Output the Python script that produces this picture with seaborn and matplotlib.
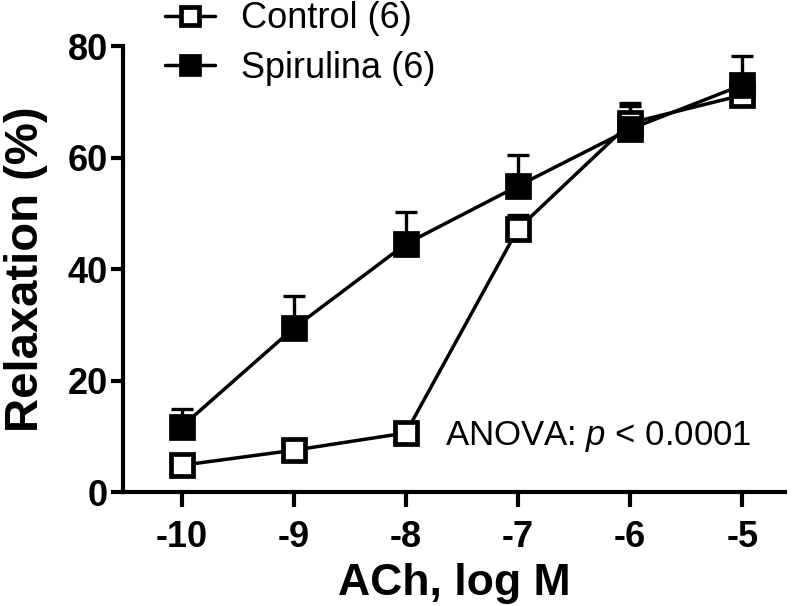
import matplotlib
matplotlib.use("Agg")
import matplotlib.pyplot as plt
import numpy as np
import pandas as pd
import seaborn as sns

log_conc = [-10, -9, -8, -7, -6, -5]
control_mean = [4.8, 7.5, 10.6, 47.2, 66.2, 71.2]
control_sem = [1.2, 1.5, 1.8, 2.5, 3.0, 2.0]
spirulina_mean = [11.7, 29.4, 44.5, 54.9, 65.1, 73.0]
spirulina_sem = [3.2, 5.8, 5.7, 5.5, 4.7, 5.2]
group_labels = ["Control (6)", "Spirulina (6)"]

sns.set_style("ticks")
plt.rcParams.update(
    {
        "font.family": ["Liberation Sans", "DejaVu Sans"],
        "axes.unicode_minus": False,
        "mathtext.fontset": "custom",
        "mathtext.rm": "Liberation Sans",
        "mathtext.it": "Liberation Sans:italic",
        "text.color": "black",
        "axes.labelcolor": "black",
        "axes.edgecolor": "black",
        "xtick.color": "black",
        "ytick.color": "black",
    }
)

df = pd.DataFrame(
    {
        "logM": log_conc * 2,
        "relax": control_mean + spirulina_mean,
        "group": [group_labels[0]] * 6 + [group_labels[1]] * 6,
    }
)

fig = plt.figure(figsize=(8, 6.06), dpi=100)
ax = fig.add_axes([0.154, 0.188, 0.827, 0.736])

# error bars (upper only), drawn under the markers
for mean, sem in [(control_mean, control_sem), (spirulina_mean, spirulina_sem)]:
    ax.errorbar(
        log_conc, mean, yerr=[np.zeros(len(sem)), sem],
        fmt="none", ecolor="black", elinewidth=2.4, capsize=8, capthick=2.4, zorder=1,
    )

marker_kw = dict(marker="s", markersize=16, markeredgewidth=3.4, linewidth=2.5, color="black")
sns.lineplot(
    data=df[df["group"] == group_labels[0]], x="logM", y="relax", ax=ax,
    markerfacecolor="white", markeredgecolor="black", label=group_labels[0],
    zorder=2, **marker_kw,
)
sns.lineplot(
    data=df[df["group"] == group_labels[1]], x="logM", y="relax", ax=ax,
    markerfacecolor="black", markeredgecolor="black", label=group_labels[1],
    zorder=3, **marker_kw,
)

ax.set_xlim(-10.52, -4.62)
ax.set_ylim(0, 80)
ax.set_xticks(log_conc)
ax.set_yticks([0, 20, 40, 60, 80])
for line in ax.lines:
    line.set_clip_on(False)

sns.despine(ax=ax)
for side in ["left", "bottom"]:
    ax.spines[side].set_linewidth(3)
ax.tick_params(axis="x", length=11, width=3, pad=9, labelsize=26)
ax.tick_params(axis="y", length=9, width=3, pad=2, labelsize=26)
for lab in ax.get_xticklabels() + ax.get_yticklabels():
    lab.set_fontweight("bold")

ax.set_xlabel("ACh, log M", fontsize=32, fontweight="bold", labelpad=6)
ax.set_ylabel("Relaxation (%)", fontsize=34, fontweight="bold", labelpad=14)

ax.text(-7.65, 10.0, "ANOVA: $p$ < 0.0001", fontsize=25, ha="left", va="center")

leg = ax.legend(
    loc="upper left", bbox_to_anchor=(0.206, 0.998), bbox_transform=fig.transFigure,
    frameon=False, prop={"size": 26},
    handlelength=1.4, handletextpad=0.7, labelspacing=0.4, borderaxespad=0,
    borderpad=0, markerscale=0.85,
)

plt.savefig("out.png", dpi=100)
plt.close()
